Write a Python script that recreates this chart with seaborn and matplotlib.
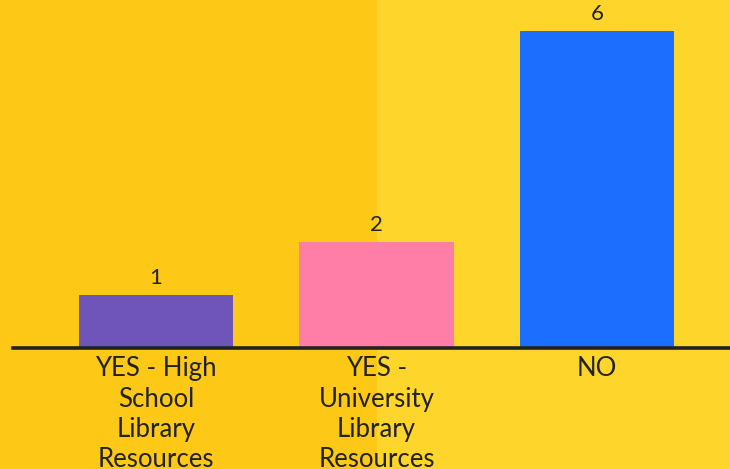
import matplotlib
matplotlib.use("Agg")
import matplotlib.pyplot as plt
import seaborn as sns
import pandas as pd
from matplotlib.patches import Rectangle

categories = ["YES - High\nSchool\nLibrary\nResources", "YES -\nUniversity\nLibrary\nResources", "NO"]
values = [1, 2, 6]
colors = ["#6F55BA", "#FF7EA7", "#1C6EFF"]

sns.set_theme(style="white")
plt.rcParams["font.family"] = ["Lato", "DejaVu Sans"]

W, H = 730, 469
fig = plt.figure(figsize=(W / 100, H / 100), dpi=100)
fig.patch.set_facecolor("#FDD52B")
fig.patches.append(Rectangle((0, 0), 377 / W, 1, transform=fig.transFigure,
                             facecolor="#FEC817", edgecolor="none", zorder=-10))

ax_left = 13 / W
ax_bottom = (H - 348) / H
ax = fig.add_axes([ax_left, ax_bottom, 1 - ax_left, 1 - ax_bottom])
ax.patch.set_alpha(0)

df = pd.DataFrame({"cat": categories, "val": values})
sns.barplot(data=df, x="cat", y="val", hue="cat", palette=colors, legend=False,
            width=0.70, ax=ax, saturation=1, linewidth=0)

ax.set_xlim(-0.649, 2.603)
ax.set_ylim(0, 6.59)
for s in ["top", "right", "left"]:
    ax.spines[s].set_visible(False)
ax.spines["bottom"].set_color("#222222")
ax.spines["bottom"].set_linewidth(2.6)
ax.set_yticks([])
ax.set_xlabel("")
ax.set_ylabel("")
ax.tick_params(axis="x", length=0, pad=6, labelsize=18.5, labelcolor="#222222")
for lbl in ax.get_xticklabels():
    lbl.set_linespacing(1.26)

for i, v in enumerate(values):
    ax.annotate(str(v), (i, v), xytext=(0, 5), textcoords="offset points",
                ha="center", va="bottom", fontsize=16, color="#222222")

fig.savefig("out.png", dpi=100, facecolor=fig.get_facecolor())
